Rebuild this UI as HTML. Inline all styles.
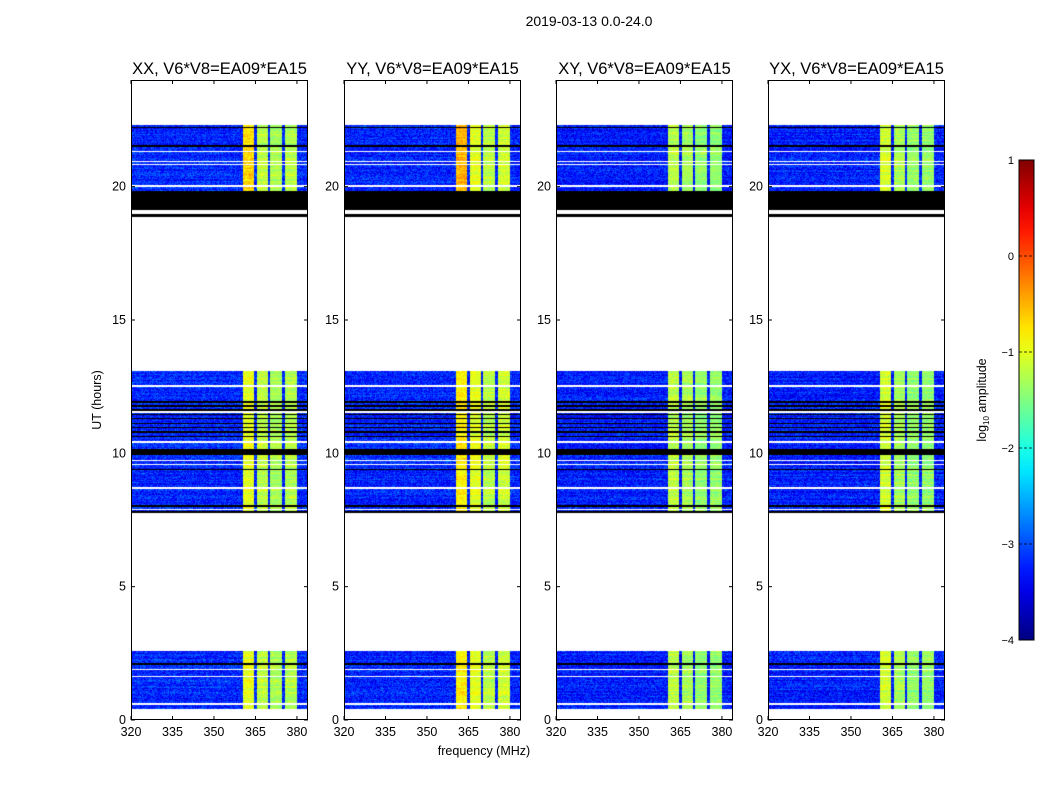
<!DOCTYPE html>
<html><head><meta charset="utf-8">
<style>
body{margin:0;background:#fff;width:1050px;height:800px;position:relative;overflow:hidden;font-family:"Liberation Sans",sans-serif}
canvas{position:absolute}
svg{position:absolute;left:0;top:0}
</style></head>
<body>
<svg id="svg" width="1050" height="800"></svg>
<script>
// ---- data ----
const panelNames=["XX, V6*V8=EA09*EA15","YY, V6*V8=EA09*EA15","XY, V6*V8=EA09*EA15","YX, V6*V8=EA09*EA15"];
const panelLeft=[131,344,556,768];
const xTicks=[320,335,350,365,380];
const yTicks=[0,5,10,15,20];
const cbTicks=[1,0,-1,-2,-3,-4];
const blockStart=[0.4,7.75,18.85];
const blockEnd=[2.6,13.1,22.3];
const bandStart=[360.4,365.6,370.4,375.6];
const bandEnd=[364.6,369.6,374.6,380.0];
// band log-amplitude per panel (rows: panels)
const bandLevel=[[-1.0,-1.2,-1.3,-1.25],[-0.8,-1.0,-1.2,-1.1],[-1.2,-1.3,-1.4,-1.4],[-1.1,-1.3,-1.4,-1.4]];
const bgLevel=[-3.2,-3.2,-3.25,-3.25];
const blackRows=[[19.12,19.82],[18.85,18.99],[22.2,22.25],[21.5,21.55],[11.9,11.95],[11.75,11.8],[11.6,11.65],[11.42,11.47],[11.28,11.32],[11.1,11.15],[10.95,11.0],[10.78,10.82],[10.6,10.65],[9.95,10.15],[9.38,9.43],[8.0,8.05],[7.75,7.82],[2.08,2.14]];
const whiteRows=[[20.0,20.05],[18.99,19.12],[20.8,20.85],[20.92,20.96],[21.3,21.35],[12.5,12.55],[11.52,11.57],[10.4,10.45],[9.7,9.74],[9.55,9.6],[8.68,8.72],[7.88,7.92],[1.88,1.93],[1.6,1.65],[0.58,0.63]];
// ---- scales ----
const X0=320,X1=384,H0=0,H1=24,PW=177,TOP=80,BOT=720;
const xs=(v,l)=>l+(v-X0)/(X1-X0)*PW;
const ys=h=>BOT-(h-H0)/(H1-H0)*(BOT-TOP);
function jet(v){let t=(v+4)/5;t=Math.max(0,Math.min(1,t));const c=x=>Math.round(255*Math.max(0,Math.min(1,x)));
return [c(1.5-Math.abs(4*t-3)),c(1.5-Math.abs(4*t-2)),c(1.5-Math.abs(4*t-1))];}
function hash(a,b,c){let h=(a*374761393+b*668265263+c*982451653)|0;h=(h^(h>>>13))*1274126177|0;return ((h^(h>>>16))>>>0)/4294967295;}
const inR=(h,arr)=>arr.some(r=>h>=r[0]&&h<=r[1]);
const svg=document.getElementById('svg');const NS="http://www.w3.org/2000/svg";
function el(tag,attrs,txt){const e=document.createElementNS(NS,tag);for(const k in attrs)e.setAttribute(k,attrs[k]);if(txt!=null)e.textContent=txt;svg.appendChild(e);return e;}
panelLeft.forEach((L,p)=>{
  const cv=document.createElement('canvas');cv.width=PW;cv.height=BOT-TOP;cv.style.left=L+'px';cv.style.top=TOP+'px';
  
  
  document.body.insertBefore(cv,svg);
  const ctx=cv.getContext('2d');const img=ctx.createImageData(PW,BOT-TOP);
  for(let y=0;y<BOT-TOP;y++){
    const h=H1-(y+0.5)/(BOT-TOP)*(H1-H0);
    let inb=-1;for(let b=0;b<blockStart.length;b++)if(h>=blockStart[b]&&h<=blockEnd[b])inb=b;
    const rowN=hash(y,7,p)*0.3-0.15;
    for(let x=0;x<PW;x++){
      const i=(y*PW+x)*4;let col=[255,255,255];
      if(inb>=0){
        if(inR(h,blackRows))col=[0,0,0];
        else if(inR(h,whiteRows))col=[255,255,255];
        else{
          const f=X0+(x+0.5)/PW*(X1-X0);let v=bgLevel[p]+(hash(x,y,p)-0.5)*0.7+rowN;
          for(let b=0;b<bandStart.length;b++)if(f>=bandStart[b]&&f<=bandEnd[b]){
            let lv=bandLevel[p][b];if(inb==2&&b==0&&p<2)lv+=0.3;
            v=lv+(hash(x,y,p+9)-0.5)*0.4+rowN;}
          col=jet(v);
        }
      }
      img.data[i]=col[0];img.data[i+1]=col[1];img.data[i+2]=col[2];img.data[i+3]=255;
    }
  }
  ctx.putImageData(img,0,0);
  const fr=el('rect',{x:L+0.5,y:TOP+0.5,width:PW-1,height:BOT-TOP-1,fill:'none',stroke:'#000','stroke-width':1});
  
  const t=el('text',{x:L+PW/2,y:74,'font-size':16.5,'text-anchor':'middle'},panelNames[p]);
  
  xTicks.forEach(v=>{const x=xs(v,L);
    el('line',{x1:x,x2:x,y1:BOT,y2:BOT-4,stroke:'#000'});el('line',{x1:x,x2:x,y1:TOP,y2:TOP+4,stroke:'#000'});
    const tl=el('text',{x:x,y:BOT+16,'font-size':12.5,'text-anchor':'middle'},v);
    });
  yTicks.forEach(v=>{const y=ys(v);
    el('line',{x1:L,x2:L+4,y1:y,y2:y,stroke:'#000'});el('line',{x1:L+PW-4,x2:L+PW,y1:y,y2:y,stroke:'#000'});
    const tl=el('text',{x:L-5,y:y+4,'font-size':12.5,'text-anchor':'end'},v);
    });
});
let e;
e=el('text',{x:589,y:26,'font-size':14,'text-anchor':'middle'},'2019-03-13 0.0-24.0');
e=el('text',{x:484,y:755,'font-size':12.5,'text-anchor':'middle'},'frequency (MHz)');
e=el('text',{x:101,y:400,'font-size':12.5,'text-anchor':'middle',transform:'rotate(-90 101 400)'},'UT (hours)');
// colorbar
const CBX=1019,CBW=15,CBT=160,CBB=640;
const g=el('linearGradient',{id:'jg',x1:0,y1:1,x2:0,y2:0});
for(let k=0;k<=20;k++){const v=-4+5*k/20;const c=jet(v);const s=document.createElementNS(NS,'stop');s.setAttribute('offset',k/20);s.setAttribute('stop-color',`rgb(${c})`);g.appendChild(s);}
e=el('rect',{x:CBX,y:CBT,width:CBW,height:CBB-CBT,fill:'url(#jg)',stroke:'#000'});
cbTicks.forEach(v=>{const y=CBB-(v+4)/5*(CBB-CBT);
  el('line',{x1:CBX,x2:CBX+CBW,y1:y,y2:y,stroke:'#000','stroke-dasharray':'3,2','stroke-width':0.8});
  const tl=el('text',{x:1014,y:y+4,'font-size':11,'text-anchor':'end'},v<0?'\u2212'+(-v):v);
  });
e=el('text',{x:986,y:400,'font-size':12.5,'text-anchor':'middle',transform:'rotate(-90 986 400)'},'');
e.innerHTML='log<tspan font-size="8" dy="3">10</tspan><tspan dy="-3"> amplitude</tspan>';

</script>
</body></html>
